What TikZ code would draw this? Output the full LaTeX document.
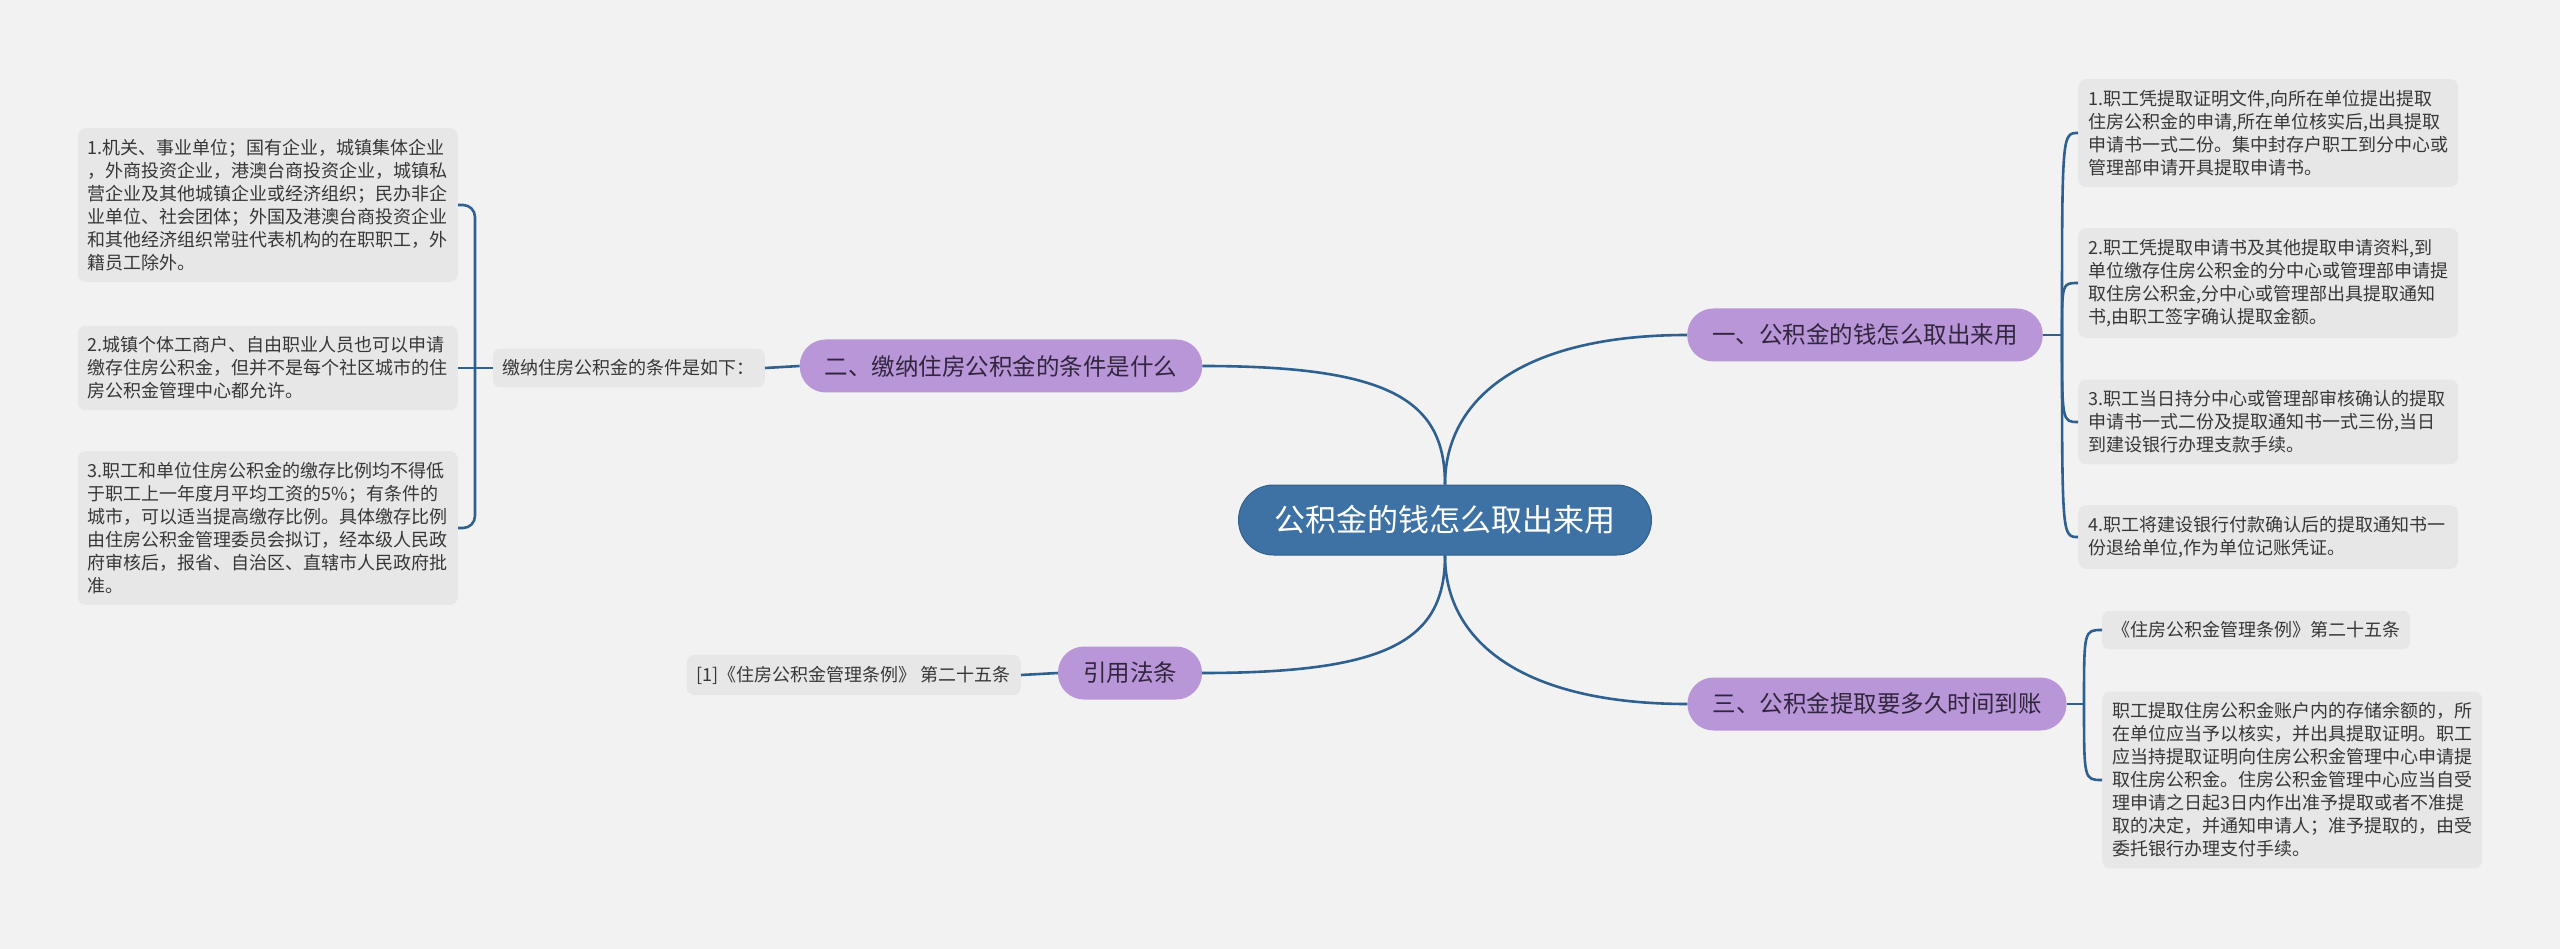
\documentclass[tikz,border=0pt]{standalone}
\usepackage{fontspec}
\setmainfont{Noto Sans CJK SC}
\definecolor{bgcol}{RGB}{242,242,242}
\definecolor{leaffill}{RGB}{231,231,231}
\definecolor{leaftext}{RGB}{55,55,55}
\definecolor{branchfill}{RGB}{184,150,216}
\definecolor{branchtext}{RGB}{50,38,62}
\definecolor{centralfill}{RGB}{62,114,164}
\definecolor{centralborder}{RGB}{48,96,142}
\definecolor{linecol}{RGB}{46,96,144}
\begin{document}
\begin{tikzpicture}[x=1pt,y=-1pt,
  leafbox/.style={fill=leaffill, rounded corners=8pt, inner xsep=10pt, inner ysep=11pt,
    align=left, text=leaftext, font=\fontsize{18}{23}\selectfont},
  multileaf/.style={leafbox, text width=360pt},
  branchbox/.style={fill=branchfill, rounded corners=26pt, minimum height=53pt,
    inner xsep=25pt, text=branchtext, font=\fontsize{23.5}{28}\selectfont},
  centralbox/.style={fill=centralfill, draw=centralborder, line width=1pt, rounded corners=35pt,
    minimum height=70pt, inner xsep=36pt, text=white, font=\fontsize{31}{36}\selectfont},
  conn/.style={draw=linecol, line width=2.6pt}]
\useasboundingbox[fill=bgcol] (0,0) rectangle (2560,949);

% central
\node[centralbox] (c) at (1445,520) {公积金的钱怎么取出来用};

% branches
\node[branchbox] (b1) at (1865,335) {一、公积金的钱怎么取出来用};
\node[branchbox] (b2) at (1001,366) {二、缴纳住房公积金的条件是什么};
\node[branchbox] (b3) at (1877,704) {三、公积金提取要多久时间到账};
\node[branchbox] (b4) at (1130,673) {引用法条};

% branch 2 leaves
\node[leafbox, anchor=east] (l2) at (765,368) {缴纳住房公积金的条件是如下：};
\node[multileaf, anchor=east] (la) at (458,205) {1.机关、事业单位；国有企业，城镇集体企业\\，外商投资企业，港澳台商投资企业，城镇私\\营企业及其他城镇企业或经济组织；民办非企\\业单位、社会团体；外国及港澳台商投资企业\\和其他经济组织常驻代表机构的在职职工，外\\籍员工除外。};
\node[multileaf, anchor=east] (lb) at (458,368) {2.城镇个体工商户、自由职业人员也可以申请\\缴存住房公积金，但并不是每个社区城市的住\\房公积金管理中心都允许。};
\node[multileaf, anchor=east] (lc) at (458,528) {3.职工和单位住房公积金的缴存比例均不得低\\于职工上一年度月平均工资的5\%；有条件的\\城市，可以适当提高缴存比例。具体缴存比例\\由住房公积金管理委员会拟订，经本级人民政\\府审核后，报省、自治区、直辖市人民政府批\\准。};

% branch 4 leaf
\node[leafbox, anchor=east] (l4) at (1021,675) {[1]《住房公积金管理条例》 第二十五条};

% branch 1 leaves
\node[multileaf, anchor=west] (ra) at (2078,133) {1.职工凭提取证明文件,向所在单位提出提取\\住房公积金的申请,所在单位核实后,出具提取\\申请书一式二份。集中封存户职工到分中心或\\管理部申请开具提取申请书。};
\node[multileaf, anchor=west] (rb) at (2078,283) {2.职工凭提取申请书及其他提取申请资料,到\\单位缴存住房公积金的分中心或管理部申请提\\取住房公积金,分中心或管理部出具提取通知\\书,由职工签字确认提取金额。};
\node[multileaf, anchor=west] (rc) at (2078,422) {3.职工当日持分中心或管理部审核确认的提取\\申请书一式二份及提取通知书一式三份,当日\\到建设银行办理支款手续。};
\node[multileaf, anchor=west] (rd) at (2078,537) {4.职工将建设银行付款确认后的提取通知书一\\份退给单位,作为单位记账凭证。};

% branch 3 leaves
\node[leafbox, anchor=west] (sa) at (2102,630) {《住房公积金管理条例》第二十五条};
\node[multileaf, anchor=west] (sb) at (2102,780) {职工提取住房公积金账户内的存储余额的，所\\在单位应当予以核实，并出具提取证明。职工\\应当持提取证明向住房公积金管理中心申请提\\取住房公积金。住房公积金管理中心应当自受\\理申请之日起3日内作出准予提取或者不准提\\取的决定，并通知申请人；准予提取的，由受\\委托银行办理支付手续。};

% central connectors
\draw[conn] (c.north) .. controls (1445,400) and (1520,335) .. (b1.west);
\draw[conn] (c.north) .. controls (1445,400) and (1390,366) .. (b2.east);
\draw[conn] (c.south) .. controls (1445,640) and (1520,704) .. (b3.west);
\draw[conn] (c.south) .. controls (1445,640) and (1390,673) .. (b4.east);

% branch 2
\coordinate (jl) at (475,368);
\draw[conn] (b2.west) -- (l2.east);
\draw[conn] (l2.west) -- (jl);
\draw[conn, rounded corners=12pt] (la.east) -| (jl);
\draw[conn] (lb.east) -- (jl);
\draw[conn, rounded corners=12pt] (lc.east) -| (jl);

% branch 4
\draw[conn] (b4.west) -- (l4.east);

% branch 1
\coordinate (j1) at (2062,335);
\draw[conn] (b1.east) -- (j1);
\foreach \t in {ra,rb,rc,rd}
  \draw[conn] (j1) .. controls (j1 |- \t.west) .. (\t.west);

% branch 3
\coordinate (j3) at (2084,704);
\draw[conn] (b3.east) -- (j3);
\foreach \t in {sa,sb}
  \draw[conn] (j3) .. controls (j3 |- \t.west) .. (\t.west);
\end{tikzpicture}
\end{document}
